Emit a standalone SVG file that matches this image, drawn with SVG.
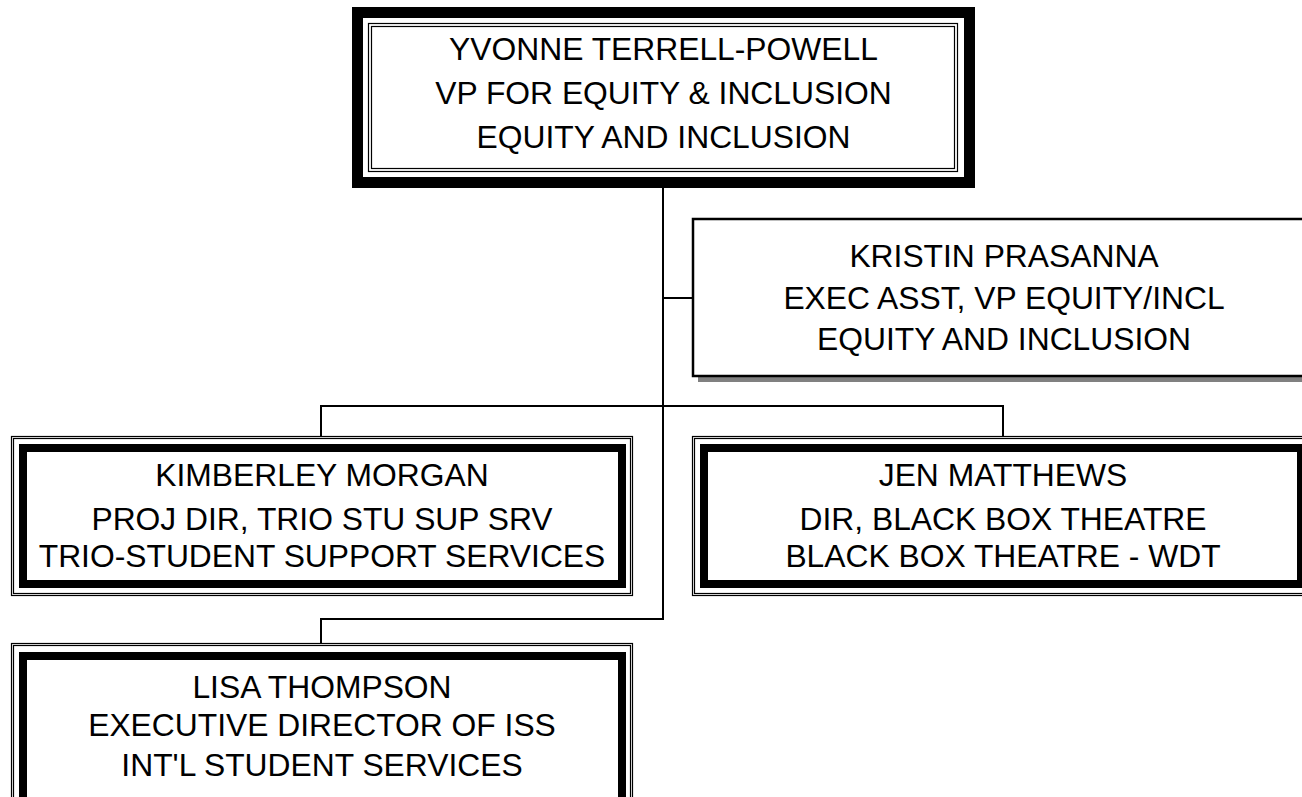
<svg xmlns="http://www.w3.org/2000/svg" width="1302" height="797" viewBox="0 0 1302 797">
<style>
text{font-family:"Liberation Sans",Arial,sans-serif;font-size:31.8px;fill:#000;text-anchor:middle}
.thick{fill:none;stroke:#000;stroke-width:8}
.top{fill:none;stroke:#000;stroke-width:11}
.thin{fill:none;stroke:#000;stroke-width:1.2}
.conn{fill:none;stroke:#000;stroke-width:2}
</style>
<rect x="0" y="0" width="1302" height="797" fill="#fff"/>
<g id="connectors">
<path class="conn" d="M663,188 V620 M663,298 H693 M321,437 V406 H1003 V437 M663,619 H321 V644"/>
</g>
<g id="node-top">
<rect x="352" y="7" width="623" height="181" fill="#fff"/>
<rect class="top" x="357.5" y="12.5" width="612" height="170"/>
<rect class="thin" x="368.5" y="23.5" width="589" height="148"/>
<rect class="thin" x="371.5" y="26.5" width="583" height="142"/>
<text x="663.5" y="60">YVONNE TERRELL-POWELL</text>
<text x="663.5" y="104">VP FOR EQUITY &amp; INCLUSION</text>
<text x="663.5" y="148">EQUITY AND INCLUSION</text>
</g>
<g id="node-kristin">
<rect x="698" y="224" width="622" height="158" fill="#808080"/>
<rect x="693" y="219" width="622" height="157" fill="#fff" stroke="#000" stroke-width="2.5"/>
<text x="1004" y="267">KRISTIN PRASANNA</text>
<text x="1004" y="309">EXEC ASST, VP EQUITY/INCL</text>
<text x="1004" y="350">EQUITY AND INCLUSION</text>
</g>
<g id="node-kimberley">
<rect x="12" y="437" width="620" height="158" fill="#fff"/>
<rect class="thin" x="11.5" y="436.5" width="621" height="159"/>
<rect class="thin" x="13.5" y="438.5" width="617" height="155"/>
<rect class="thick" x="23" y="448" width="599" height="136"/>
<text x="322" y="486">KIMBERLEY MORGAN</text>
<text x="322" y="530">PROJ DIR, TRIO STU SUP SRV</text>
<text x="322" y="567">TRIO-STUDENT SUPPORT SERVICES</text>
</g>
<g id="node-jen">
<rect x="693" y="437" width="620" height="158" fill="#fff"/>
<rect class="thin" x="692.5" y="436.5" width="621" height="159"/>
<rect class="thin" x="694.5" y="438.5" width="617" height="155"/>
<rect class="thick" x="704" y="448" width="597" height="136"/>
<text x="1003" y="486">JEN MATTHEWS</text>
<text x="1003" y="530">DIR, BLACK BOX THEATRE</text>
<text x="1003" y="567">BLACK BOX THEATRE - WDT</text>
</g>
<g id="node-lisa">
<rect x="12" y="644" width="620" height="170" fill="#fff"/>
<rect class="thin" x="11.5" y="643.5" width="621" height="170"/>
<rect class="thin" x="13.5" y="645.5" width="617" height="166"/>
<rect class="thick" x="23" y="656" width="599" height="150"/>
<text x="322" y="698">LISA THOMPSON</text>
<text x="322" y="736">EXECUTIVE DIRECTOR OF ISS</text>
<text x="322" y="776">INT'L STUDENT SERVICES</text>
</g>
</svg>
